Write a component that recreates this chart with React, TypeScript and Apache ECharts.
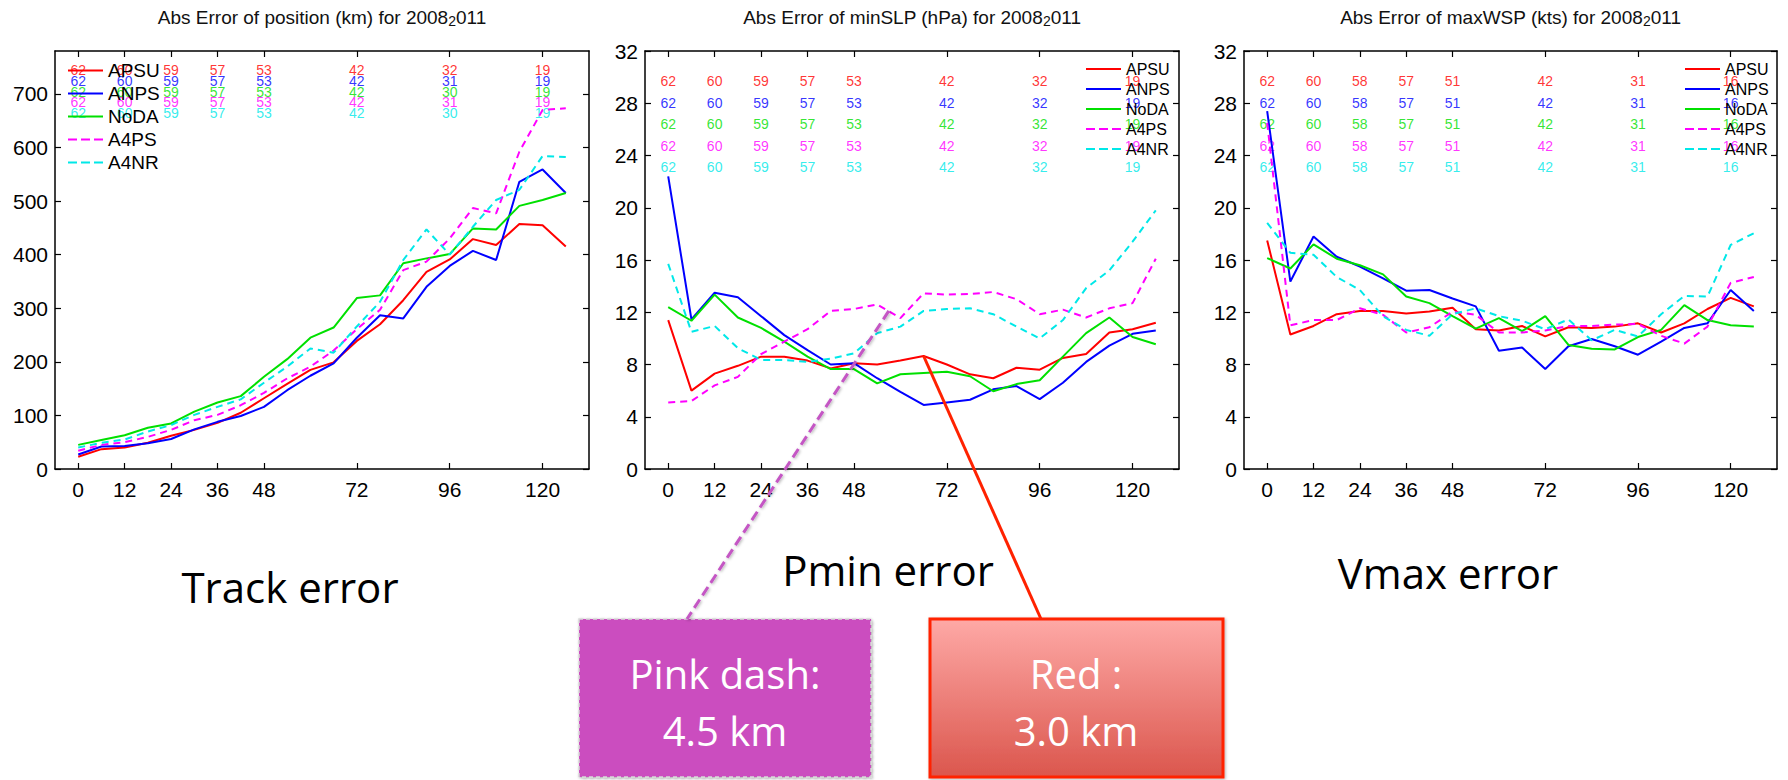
import React, { useEffect, useRef } from 'react';
import * as echarts from 'echarts';

const FONT = '"Liberation Sans", Arial, Helvetica, sans-serif';
const NOTE_FONT = '"Open Sans", "Noto Sans", sans-serif';

const HOURS = [0, 6, 12, 18, 24, 30, 36, 42, 48, 54, 60, 66, 72, 78, 84, 90, 96, 102, 108, 114, 120, 126];
const TICK_HOURS = [0, 12, 24, 36, 48, 72, 96, 120];
const TRACK_TICKS = [0, 100, 200, 300, 400, 500, 600, 700];
const ERR_TICKS = [0, 4, 8, 12, 16, 20, 24, 28, 32];

const MODELS = ['APSU', 'ANPS', 'NoDA', 'A4PS', 'A4NR'];
const COLORS = ['#ff0000', '#0000ff', '#00e000', '#ff00ff', '#00e8e8'];
const DASHED = [false, false, false, true, true];

// Track error (km)
const TRACK_APSU = [23, 37, 40, 49, 62, 73, 86, 105, 132, 159, 185, 199, 239, 270, 315, 368, 391, 429, 418, 457, 455, 415];
const TRACK_ANPS = [27, 42, 43, 48, 56, 74, 88, 99, 116, 147, 174, 197, 245, 287, 281, 340, 379, 407, 390, 536, 559, 515];
const TRACK_NODA = [45, 54, 63, 77, 85, 107, 124, 136, 172, 205, 245, 264, 319, 324, 384, 393, 401, 449, 447, 491, 502, 515];
const TRACK_A4PS = [34, 45, 50, 60, 73, 91, 101, 119, 142, 169, 191, 221, 261, 297, 371, 387, 430, 487, 477, 592, 670, 673];
const TRACK_A4NR = [40, 49, 55, 70, 82, 101, 116, 130, 161, 191, 225, 217, 266, 312, 390, 447, 400, 452, 502, 521, 584, 582];

// minSLP error (hPa)
const SLP_APSU = [11.4, 6.0, 7.3, 7.9, 8.6, 8.6, 8.3, 7.7, 8.1, 8.0, 8.3, 8.65, 8.0, 7.25, 6.95, 7.75, 7.6, 8.5, 8.8, 10.45, 10.7, 11.2];
const SLP_ANPS = [22.4, 11.45, 13.5, 13.15, 11.7, 10.25, 9.1, 8.0, 8.1, 6.95, 5.9, 4.9, 5.1, 5.3, 6.1, 6.35, 5.35, 6.6, 8.2, 9.45, 10.35, 10.6];
const SLP_NODA = [12.4, 11.35, 13.35, 11.6, 10.8, 9.75, 8.6, 7.65, 7.65, 6.55, 7.25, 7.35, 7.45, 7.1, 5.95, 6.5, 6.8, 8.6, 10.4, 11.6, 10.1, 9.55];
const SLP_A4PS = [5.1, 5.2, 6.4, 7.05, 8.8, 9.75, 10.7, 12.1, 12.25, 12.6, 11.55, 13.45, 13.35, 13.4, 13.55, 13.0, 11.85, 12.2, 11.6, 12.3, 12.7, 16.1];
const SLP_A4NR = [15.7, 10.5, 10.95, 9.25, 8.35, 8.35, 8.2, 8.45, 8.85, 10.4, 10.9, 12.1, 12.25, 12.3, 11.85, 10.9, 10.0, 11.4, 13.85, 15.2, 17.4, 19.8];

// maxWSP error (kts)
const WSP_APSU = [17.5, 10.3, 10.95, 11.85, 12.1, 12.1, 11.9, 12.05, 12.35, 10.7, 10.6, 10.95, 10.15, 10.85, 10.8, 10.9, 11.15, 10.45, 11.15, 12.25, 13.1, 12.45];
const WSP_ANPS = [27.4, 14.35, 17.8, 16.25, 15.5, 14.6, 13.65, 13.7, 13.05, 12.45, 9.05, 9.3, 7.65, 9.4, 9.95, 9.4, 8.75, 9.75, 10.8, 11.15, 13.7, 12.1];
const WSP_NODA = [16.15, 15.35, 17.2, 16.1, 15.6, 14.9, 13.2, 12.7, 11.7, 10.75, 11.55, 10.55, 11.7, 9.5, 9.2, 9.15, 10.1, 10.65, 12.55, 11.4, 11.0, 10.9];
const WSP_A4PS = [26.5, 11.0, 11.4, 11.4, 12.3, 11.8, 10.45, 10.85, 12.05, 11.8, 10.45, 10.45, 10.6, 10.95, 10.95, 11.05, 11.1, 10.2, 9.6, 10.9, 14.25, 14.7];
const WSP_A4NR = [18.85, 16.55, 16.4, 14.7, 13.7, 11.7, 10.65, 10.2, 11.85, 12.3, 11.7, 11.35, 10.7, 11.45, 9.85, 10.65, 10.15, 11.85, 13.25, 13.2, 17.15, 18.05];

// sample counts at TICK_HOURS, one row per model
const TRACK_COUNTS = [
  [62, 60, 59, 57, 53, 42, 32, 19],
  [62, 60, 59, 57, 53, 42, 31, 19],
  [62, 60, 59, 57, 53, 42, 30, 19],
  [62, 60, 59, 57, 53, 42, 31, 19],
  [62, 60, 59, 57, 53, 42, 30, 19],
];
const SLP_COUNTS = [
  [62, 60, 59, 57, 53, 42, 32, 19],
  [62, 60, 59, 57, 53, 42, 32, 19],
  [62, 60, 59, 57, 53, 42, 32, 19],
  [62, 60, 59, 57, 53, 42, 32, 19],
  [62, 60, 59, 57, 53, 42, 32, 19],
];
const WSP_COUNTS = [
  [62, 60, 58, 57, 51, 42, 31, 16],
  [62, 60, 58, 57, 51, 42, 31, 16],
  [62, 60, 58, 57, 51, 42, 31, 16],
  [62, 60, 58, 57, 51, 42, 31, 16],
  [62, 60, 58, 57, 51, 42, 31, 16],
];
const TRACK_COUNT_ROWS = [744, 724, 703, 684, 664];
const ERR_COUNT_ROWS = [29.7, 28.0, 26.4, 24.7, 23.1];

const PANELS = [
  {
    title: 'Abs Error of position (km) for 2008',
    lines: [TRACK_APSU, TRACK_ANPS, TRACK_NODA, TRACK_A4PS, TRACK_A4NR],
    counts: TRACK_COUNTS, rows: TRACK_COUNT_ROWS, yMax: 780, yTicks: TRACK_TICKS,
    grid: { left: 55, top: 51, width: 534, height: 418 },
    legend: { left: 68, top: 61, fontSize: 19, gap: 4 },
  },
  {
    title: 'Abs Error of minSLP (hPa) for 2008',
    lines: [SLP_APSU, SLP_ANPS, SLP_NODA, SLP_A4PS, SLP_A4NR],
    counts: SLP_COUNTS, rows: ERR_COUNT_ROWS, yMax: 32, yTicks: ERR_TICKS,
    grid: { left: 645, top: 51, width: 534, height: 418 },
    legend: { left: 1086, top: 61, fontSize: 16, gap: 4 },
  },
  {
    title: 'Abs Error of maxWSP (kts) for 2008',
    lines: [WSP_APSU, WSP_ANPS, WSP_NODA, WSP_A4PS, WSP_A4NR],
    counts: WSP_COUNTS, rows: ERR_COUNT_ROWS, yMax: 32, yTicks: ERR_TICKS,
    grid: { left: 1244, top: 51, width: 533, height: 418 },
    legend: { left: 1685, top: 61, fontSize: 16, gap: 4 },
  },
];

const SOLID_ICON = 'path://M0,0H35V2H0Z';
const DASH_ICON = 'path://M0,0H9V2H0Z M13,0H22V2H13Z M26,0H35V2H26Z';

const AXIS_LINE = { show: true, onZero: false, lineStyle: { color: '#000', width: 1.5 } };

function buildOption() {
  const grid: any[] = [];
  const xAxis: any[] = [];
  const yAxis: any[] = [];
  const series: any[] = [];
  const legend: any[] = [];
  const graphic: any[] = [];

  PANELS.forEach((p, g) => {
    grid.push({ ...p.grid, containLabel: false, outerBoundsMode: 'none' });
    ['bottom', 'top'].forEach((pos) => {
      xAxis.push({
        type: 'value', gridIndex: g, position: pos, min: -6, max: 132,
        axisLine: AXIS_LINE,
        axisTick: { show: true, inside: true, length: 6, customValues: TICK_HOURS, lineStyle: { color: '#000', width: 1.2 } },
        axisLabel: pos === 'bottom'
          ? { show: true, customValues: TICK_HOURS, fontSize: 21, color: '#000', fontFamily: FONT, margin: 10 }
          : { show: false },
        splitLine: { show: false },
      });
    });
    ['left', 'right'].forEach((pos) => {
      yAxis.push({
        type: 'value', gridIndex: g, position: pos, min: 0, max: p.yMax,
        axisLine: AXIS_LINE,
        axisTick: { show: true, inside: true, length: 6, customValues: p.yTicks, lineStyle: { color: '#000', width: 1.2 } },
        axisLabel: pos === 'left'
          ? { show: true, customValues: p.yTicks, fontSize: 21, color: '#000', fontFamily: FONT, margin: 7 }
          : { show: false },
        splitLine: { show: false },
      });
    });
    p.lines.forEach((vals, i) => {
      series.push({
        type: 'line', name: MODELS[i], xAxisIndex: 2 * g, yAxisIndex: 2 * g,
        data: HOURS.map((h, k) => [h, vals[k]]),
        symbol: 'none', showSymbol: false, silent: true, z: 3,
        lineStyle: { color: COLORS[i], width: 2, type: DASHED[i] ? [7, 5] : 'solid' },
        itemStyle: { color: COLORS[i] },
      });
    });
    p.counts.forEach((row, i) => {
      series.push({
        type: 'scatter', name: 'n' + g + MODELS[i], xAxisIndex: 2 * g, yAxisIndex: 2 * g,
        data: TICK_HOURS.map((h, k) => [h, p.rows[i], row[k]]),
        symbolSize: 1, silent: true, z: 2,
        itemStyle: { color: 'rgba(0,0,0,0)' },
        label: {
          show: true, position: 'inside', formatter: (q: any) => String(q.value[2]),
          color: COLORS[i], fontSize: 14, fontFamily: FONT,
        },
      });
    });
    legend.push({
      show: true, orient: 'vertical', left: p.legend.left, top: p.legend.top, padding: 0,
      itemGap: p.legend.gap, itemWidth: 35, itemHeight: 2, selectedMode: false,
      data: MODELS.map((m, i) => ({
        name: m,
        icon: DASHED[i] ? DASH_ICON : SOLID_ICON,
        itemStyle: { color: COLORS[i], borderWidth: 0 },
      })),
      textStyle: { fontSize: p.legend.fontSize, lineHeight: p.legend.fontSize, fontFamily: FONT, color: '#000' },
    });
    graphic.push({
      type: 'text', x: p.grid.left + p.grid.width / 2, y: 8, z: 50,
      style: {
        text: '{a|' + p.title + '}{s|2}{a|011}',
        align: 'center', verticalAlign: 'top',
        rich: {
          a: { fontSize: 19, fontFamily: FONT, fill: '#111', lineHeight: 20, verticalAlign: 'top' },
          s: { fontSize: 14, fontFamily: FONT, fill: '#111', lineHeight: 14, verticalAlign: 'bottom', padding: [12, 0, 0, 0] },
        },
      },
    });
  });

  return {
    animation: false,
    backgroundColor: '#fff',
    grid, xAxis, yAxis, series, legend, graphic,
  };
}

export default function App() {
  const ref = useRef<HTMLDivElement>(null);
  useEffect(() => {
    if (!ref.current) return;
    const chart = echarts.init(ref.current, null, { renderer: 'svg' });
    const option = buildOption();
    chart.setOption(option as any);

    const redTop = chart.convertToPixel({ gridIndex: 1 } as any, [HOURS[11], SLP_APSU[11]]) as number[];
    const pinkTop = chart.convertToPixel({ gridIndex: 1 } as any, [57, 12.1]) as number[];

    const noteText = (text: string, x: number, y: number, fill: string, size: number) => ({
      type: 'text', x, y, z: 60,
      style: { text, fill, font: `${size}px ${NOTE_FONT}`, align: 'center', verticalAlign: 'middle' },
    });

    const extra: any[] = [
      noteText('Track error', 290, 586, '#000', 42),
      noteText('Pmin error', 888, 569, '#000', 42),
      noteText('Vmax error', 1448, 572, '#000', 42),
      {
        type: 'rect', z: 55,
        shape: { x: 579, y: 619, width: 292, height: 158 },
        style: {
          fill: '#CB4DBF', stroke: '#d8d8d8', lineWidth: 1.5, lineDash: [4, 3],
          shadowBlur: 3, shadowColor: 'rgba(0,0,0,0.35)', shadowOffsetX: 1, shadowOffsetY: 1,
        },
      },
      noteText('Pink dash:', 725, 673, '#fff', 40),
      noteText('4.5 km', 725, 730, '#fff', 40),
      {
        type: 'rect', z: 55,
        shape: { x: 930, y: 619, width: 293, height: 158 },
        style: {
          fill: new echarts.graphic.LinearGradient(0, 0, 0, 1, [
            { offset: 0, color: '#FEA9A6' },
            { offset: 1, color: '#DB564D' },
          ]),
          stroke: '#FF2200', lineWidth: 3,
          shadowBlur: 3, shadowColor: 'rgba(0,0,0,0.3)', shadowOffsetX: 1, shadowOffsetY: 1,
        },
      },
      noteText('Red :', 1076, 673, '#fff', 40),
      noteText('3.0 km', 1076, 730, '#fff', 40),
      {
        type: 'line', z: 58,
        shape: { x1: pinkTop[0], y1: pinkTop[1], x2: 687, y2: 619 },
        style: {
          stroke: '#C456C4', lineWidth: 3, lineDash: [10, 5],
          shadowBlur: 3, shadowColor: 'rgba(0,0,0,0.3)', shadowOffsetX: 1, shadowOffsetY: 1,
        },
      },
      {
        type: 'line', z: 58,
        shape: { x1: redTop[0], y1: redTop[1], x2: 1041, y2: 619 },
        style: { stroke: '#FF2200', lineWidth: 3 },
      },
    ];
    chart.setOption({ graphic: [...(option.graphic as any[]), ...extra] } as any);

    return () => chart.dispose();
  }, []);
  return (
    <div
      ref={ref}
      style={{ position: 'absolute', left: 0, top: 0, width: 1788, height: 780, background: '#fff' }}
    />
  );
}
